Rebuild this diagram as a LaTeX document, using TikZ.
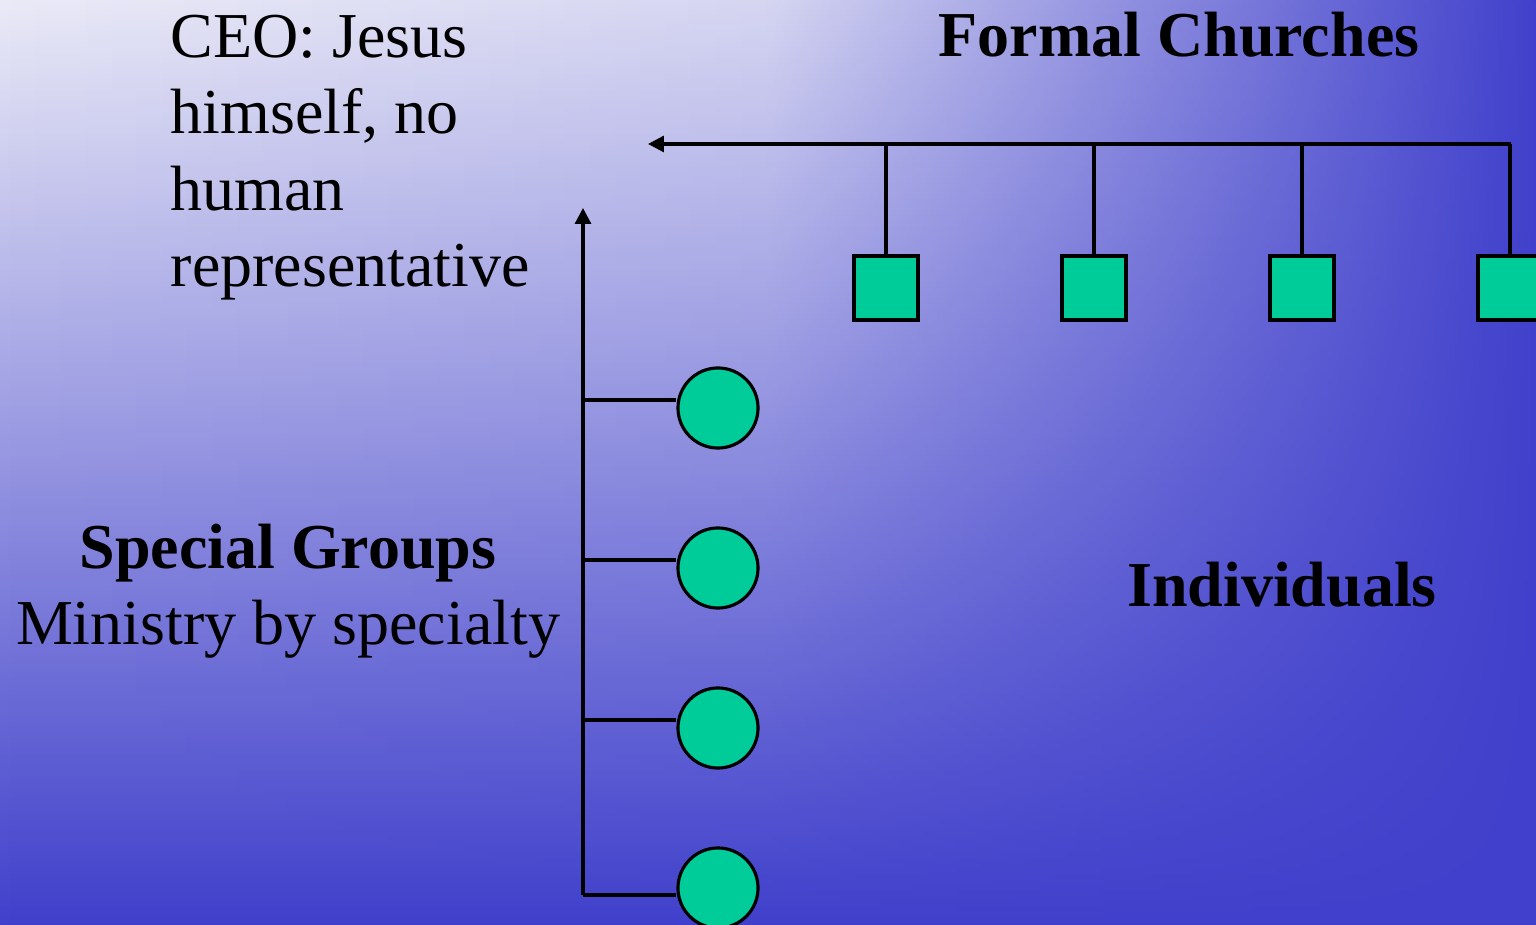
\documentclass[tikz,border=0pt]{standalone}
\usepackage{fontspec}
\setmainfont{Liberation Serif}
\usepackage{tikz}
\usetikzlibrary{arrows.meta, positioning, fadings}
\definecolor{skylight}{RGB}{234, 234, 247}
\definecolor{skydeep}{RGB}{64, 64, 204}
\definecolor{unitgreen}{RGB}{0, 204, 153}
\tikzfading[name=skyfade, left color=transparent!100, right color=transparent!0, middle color=transparent!88]

\begin{document}
\begin{tikzpicture}[x=0.01cm, y=-0.01cm,
    church/.style={draw, line width=0.9pt, fill=unitgreen, minimum size=0.64cm, inner sep=0pt},
    group/.style={draw, circle, line width=0.9pt, fill=unitgreen, minimum size=0.8cm, inner sep=0pt},
    link/.style={line width=0.9pt},
    arrowed/.style={-{Triangle[length=4.5pt, width=4.5pt]}},
    words/.style={font=\fontsize{18.2}{21.8}\selectfont, inner sep=0pt}]
  % backdrop
  \clip (0,0) rectangle (1536,925);
  \shade[top color=skylight, bottom color=skydeep] (0,0) rectangle (1536,925);
  \fill[skydeep, path fading=skyfade] (0,0) rectangle (1536,925);

  % formal churches
  \coordinate (trunkend) at (1511,144);
  \coordinate (trunktip) at (648,144);
  \draw[link, arrowed] (trunkend) -- (trunktip);
  \foreach \x [count=\i] in {886,1094,1302,1510} {
    \node[church] (sq\i) at (\x,288) {};
    \draw[link] (sq\i.north) -- (sq\i.north |- trunkend);
  }

  % special groups
  \coordinate (spinebot) at (583,895);
  \coordinate (spinetip) at (583,208);
  \draw[link, arrowed] (spinebot) -- (spinetip);
  \foreach \y/\c [count=\i] in {400/408,560/568,720/728,895/888} {
    \node[group] (gr\i) at (718,\c) {};
    \coordinate (br\i) at (583,\y);
    \draw[link] (br\i) -- (br\i -| gr\i.west);
  }

  % texts
  \node[words, anchor=base west, align=left] (ceo) at (170,287)
    {CEO: Jesus\\himself, no\\human\\representative};
  \node[words, anchor=base] (formal) at (1179,57) {\textbf{Formal Churches}};
  \node[words, anchor=base, align=center] (special) at (288,645)
    {\textbf{Special Groups}\\Ministry by specialty};
  \node[words, anchor=base] (indiv) at (1282,607) {\textbf{Individuals}};
\end{tikzpicture}
\end{document}
